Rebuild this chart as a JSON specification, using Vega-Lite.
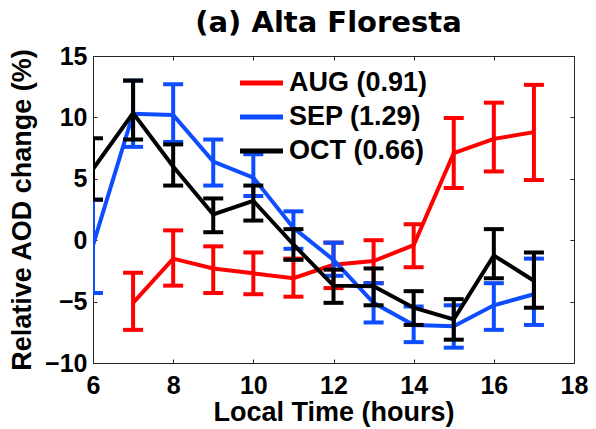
{
  "$schema": "https://vega.github.io/schema/vega-lite/v6.json",
  "width": 481,
  "height": 307,
  "autosize": {"type": "none"},
  "padding": {"left": 93, "top": 56, "right": 22, "bottom": 66},
  "background": "white",
  "title": {"text": "(a) Alta Floresta", "font": "DejaVu Sans", "fontSize": 29, "fontWeight": "bold", "color": "black", "anchor": "middle", "frame": "group", "baseline": "alphabetic", "offset": -17, "dx": -5},
  "data": {"values": [
    {"month": "AUG (0.91)", "hour": 7, "mean": -5.1, "hi": -2.65, "lo": -7.3},
    {"month": "AUG (0.91)", "hour": 8, "mean": -1.5, "hi": 0.8, "lo": -3.7},
    {"month": "AUG (0.91)", "hour": 9, "mean": -2.3, "hi": -0.5, "lo": -4.3},
    {"month": "AUG (0.91)", "hour": 10, "mean": -2.7, "hi": -1.0, "lo": -4.4},
    {"month": "AUG (0.91)", "hour": 11, "mean": -3.1, "hi": -1.5, "lo": -4.6},
    {"month": "AUG (0.91)", "hour": 12, "mean": -2.0, "hi": -0.2, "lo": -3.9},
    {"month": "AUG (0.91)", "hour": 13, "mean": -1.7, "hi": 0.0, "lo": -3.5},
    {"month": "AUG (0.91)", "hour": 14, "mean": -0.4, "hi": 1.3, "lo": -2.2},
    {"month": "AUG (0.91)", "hour": 15, "mean": 7.1, "hi": 9.95, "lo": 4.25},
    {"month": "AUG (0.91)", "hour": 16, "mean": 8.25, "hi": 11.2, "lo": 5.6},
    {"month": "AUG (0.91)", "hour": 17, "mean": 8.8, "hi": 12.65, "lo": 4.9},
    {"month": "SEP (1.29)", "hour": 6, "mean": -0.4, "hi": 3.3, "lo": -4.3},
    {"month": "SEP (1.29)", "hour": 7, "mean": 10.3, "hi": 13.0, "lo": 7.6},
    {"month": "SEP (1.29)", "hour": 8, "mean": 10.2, "hi": 12.7, "lo": 8.0},
    {"month": "SEP (1.29)", "hour": 9, "mean": 6.4, "hi": 8.2, "lo": 4.45},
    {"month": "SEP (1.29)", "hour": 10, "mean": 5.1, "hi": 7.0, "lo": 3.6},
    {"month": "SEP (1.29)", "hour": 11, "mean": 1.0, "hi": 2.35, "lo": -0.7},
    {"month": "SEP (1.29)", "hour": 12, "mean": -1.6, "hi": -0.2, "lo": -2.9},
    {"month": "SEP (1.29)", "hour": 13, "mean": -5.1, "hi": -3.5, "lo": -6.7},
    {"month": "SEP (1.29)", "hour": 14, "mean": -6.9, "hi": -5.4, "lo": -8.3},
    {"month": "SEP (1.29)", "hour": 15, "mean": -7.0, "hi": -5.3, "lo": -8.75},
    {"month": "SEP (1.29)", "hour": 16, "mean": -5.3, "hi": -3.5, "lo": -7.3},
    {"month": "SEP (1.29)", "hour": 17, "mean": -4.4, "hi": -1.5, "lo": -6.9},
    {"month": "OCT (0.66)", "hour": 6, "mean": 5.8, "hi": 8.3, "lo": 3.3},
    {"month": "OCT (0.66)", "hour": 7, "mean": 10.35, "hi": 13.0, "lo": 8.2},
    {"month": "OCT (0.66)", "hour": 8, "mean": 6.0, "hi": 7.8, "lo": 4.45},
    {"month": "OCT (0.66)", "hour": 9, "mean": 2.1, "hi": 3.4, "lo": 0.65},
    {"month": "OCT (0.66)", "hour": 10, "mean": 3.2, "hi": 4.45, "lo": 1.6},
    {"month": "OCT (0.66)", "hour": 11, "mean": -0.35, "hi": 0.9, "lo": -1.6},
    {"month": "OCT (0.66)", "hour": 12, "mean": -3.7, "hi": -2.4, "lo": -5.1},
    {"month": "OCT (0.66)", "hour": 13, "mean": -3.75, "hi": -2.3, "lo": -5.3},
    {"month": "OCT (0.66)", "hour": 14, "mean": -5.5, "hi": -4.15, "lo": -6.9},
    {"month": "OCT (0.66)", "hour": 15, "mean": -6.45, "hi": -4.8, "lo": -8.1},
    {"month": "OCT (0.66)", "hour": 16, "mean": -1.25, "hi": 0.9, "lo": -3.1},
    {"month": "OCT (0.66)", "hour": 17, "mean": -3.3, "hi": -1.0, "lo": -5.5}
  ]},
  "layer": [
    {
      "transform": [{"filter": "datum.month === 'AUG (0.91)'"}],
      "encoding": {
        "x": {"field": "hour", "type": "quantitative", "scale": {"domain": [6, 18]}, "axis": null},
        "color": {"field": "month", "type": "nominal", "scale": {"domain": ["AUG (0.91)", "SEP (1.29)", "OCT (0.66)"], "range": ["#ff0000", "#0d4dff", "#000000"]}, "legend": {"title": null}}
      },
      "layer": [
        {"mark": {"type": "rule", "strokeWidth": 4, "clip": true}, "encoding": {"y": {"field": "lo", "type": "quantitative", "scale": {"domain": [-10, 15]}, "axis": null}, "y2": {"field": "hi"}}},
        {"mark": {"type": "tick", "orient": "horizontal", "size": 20, "thickness": 4, "clip": true, "opacity": 1}, "encoding": {"y": {"field": "lo", "type": "quantitative", "scale": {"domain": [-10, 15]}, "axis": null}}},
        {"mark": {"type": "tick", "orient": "horizontal", "size": 20, "thickness": 4, "clip": true, "opacity": 1}, "encoding": {"y": {"field": "hi", "type": "quantitative", "scale": {"domain": [-10, 15]}, "axis": null}}},
        {"mark": {"type": "line", "strokeWidth": 4, "clip": true}, "encoding": {"y": {"field": "mean", "type": "quantitative", "scale": {"domain": [-10, 15]}, "axis": null}}}
      ]
    },
    {
      "transform": [{"filter": "datum.month === 'SEP (1.29)'"}],
      "encoding": {
        "x": {"field": "hour", "type": "quantitative", "scale": {"domain": [6, 18]}, "axis": null},
        "color": {"field": "month", "type": "nominal", "scale": {"domain": ["AUG (0.91)", "SEP (1.29)", "OCT (0.66)"], "range": ["#ff0000", "#0d4dff", "#000000"]}, "legend": {"title": null}}
      },
      "layer": [
        {"mark": {"type": "rule", "strokeWidth": 4, "clip": true}, "encoding": {"y": {"field": "lo", "type": "quantitative", "scale": {"domain": [-10, 15]}, "axis": null}, "y2": {"field": "hi"}}},
        {"mark": {"type": "tick", "orient": "horizontal", "size": 20, "thickness": 4, "clip": true, "opacity": 1}, "encoding": {"y": {"field": "lo", "type": "quantitative", "scale": {"domain": [-10, 15]}, "axis": null}}},
        {"mark": {"type": "tick", "orient": "horizontal", "size": 20, "thickness": 4, "clip": true, "opacity": 1}, "encoding": {"y": {"field": "hi", "type": "quantitative", "scale": {"domain": [-10, 15]}, "axis": null}}},
        {"mark": {"type": "line", "strokeWidth": 4, "clip": true}, "encoding": {"y": {"field": "mean", "type": "quantitative", "scale": {"domain": [-10, 15]}, "axis": null}}}
      ]
    },
    {
      "transform": [{"filter": "datum.month === 'OCT (0.66)'"}],
      "encoding": {
        "x": {"field": "hour", "type": "quantitative", "scale": {"domain": [6, 18]}, "axis": null},
        "color": {"field": "month", "type": "nominal", "scale": {"domain": ["AUG (0.91)", "SEP (1.29)", "OCT (0.66)"], "range": ["#ff0000", "#0d4dff", "#000000"]}, "legend": {"title": null}}
      },
      "layer": [
        {"mark": {"type": "rule", "strokeWidth": 4, "clip": true}, "encoding": {"y": {"field": "lo", "type": "quantitative", "scale": {"domain": [-10, 15]}, "axis": null}, "y2": {"field": "hi"}}},
        {"mark": {"type": "tick", "orient": "horizontal", "size": 20, "thickness": 4, "clip": true, "opacity": 1}, "encoding": {"y": {"field": "lo", "type": "quantitative", "scale": {"domain": [-10, 15]}, "axis": null}}},
        {"mark": {"type": "tick", "orient": "horizontal", "size": 20, "thickness": 4, "clip": true, "opacity": 1}, "encoding": {"y": {"field": "hi", "type": "quantitative", "scale": {"domain": [-10, 15]}, "axis": null}}},
        {"mark": {"type": "line", "strokeWidth": 4, "clip": true}, "encoding": {"y": {"field": "mean", "type": "quantitative", "scale": {"domain": [-10, 15]}, "axis": null}}}
      ]
    },
    {
      "mark": {"type": "point", "opacity": 0},
      "encoding": {
        "x": {"field": "hour", "type": "quantitative", "scale": {"domain": [6, 18]}, "axis": {"orient": "bottom", "values": [6, 8, 10, 12, 14, 16, 18], "title": "Local Time (hours)", "labelFlush": false, "tickSize": -4, "labelPadding": 14, "titlePadding": 1}},
        "y": {"field": "mean", "type": "quantitative", "scale": {"domain": [-10, 15]}, "axis": {"orient": "left", "values": [-10, -5, 0, 5, 10, 15], "title": "Relative AOD change (%)", "tickSize": -4, "labelPadding": 10, "titlePadding": 8}}
      }
    },
    {
      "mark": {"type": "point", "opacity": 0},
      "encoding": {
        "x": {"field": "hour", "type": "quantitative", "scale": {"domain": [6, 18]}, "axis": {"orient": "top", "values": [6, 8, 10, 12, 14, 16, 18], "title": null, "labels": false, "tickSize": -4}},
        "y": {"field": "mean", "type": "quantitative", "scale": {"domain": [-10, 15]}, "axis": {"orient": "right", "values": [-10, -5, 0, 5, 10, 15], "title": null, "labels": false, "tickSize": -4}}
      }
    }
  ],
  "config": {
    "view": {"stroke": null},
    "axis": {
      "grid": false,
      "domainColor": "#262626",
      "domainWidth": 1,
      "tickColor": "#262626",
      "tickWidth": 1,
      "labelFont": "Liberation Sans",
      "labelFontSize": 25,
      "labelFontWeight": "bold",
      "labelColor": "black",
      "titleFont": "Liberation Sans",
      "titleFontSize": 27,
      "titleFontWeight": "bold",
      "titleColor": "black"
    },
    "legend": {
      "orient": "none",
      "legendX": 144,
      "legendY": 12,
      "symbolType": "stroke",
      "symbolSize": 1850,
      "symbolStrokeWidth": 5,
      "labelFont": "Liberation Sans",
      "labelFontSize": 27,
      "labelFontWeight": "bold",
      "labelColor": "black",
      "labelOffset": 3,
      "clipHeight": 30,
      "rowPadding": 4,
      "padding": 0
    }
  }
}
